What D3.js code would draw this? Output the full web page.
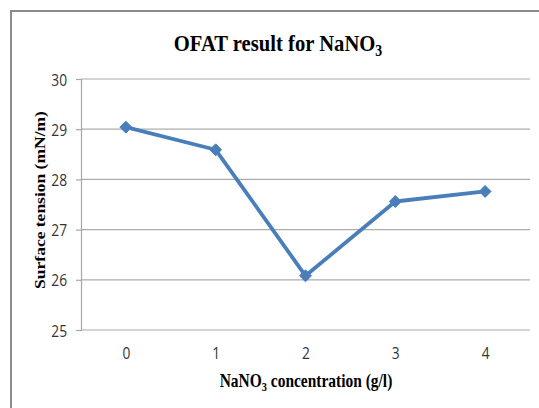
<!DOCTYPE html>
<html>
<head>
<meta charset="utf-8">
<script src="https://cdn.jsdelivr.net/npm/d3@7/dist/d3.min.js"></script>
<style>
  html, body { margin: 0; padding: 0; background: #fff; }
  svg { display: block; }
</style>
</head>
<body>
<svg id="chart" width="539" height="408"></svg>
<script>
// NaNO3 concentration (g/l) and measured surface tension (mN/m)
const concentrations = ["0", "1", "2", "3", "4"];
const surfaceTension = [29.04, 28.59, 26.08, 27.56, 27.76];
const yTicks = [25, 26, 27, 28, 29, 30];

const svg = d3.select("#chart");
const W = 539, H = 408;
const plot = { left: 81, right: 530, top: 79, bottom: 330 };
const squeeze = 0.86;   // narrow horizontal text proportions
const serif = "'Liberation Serif', 'DejaVu Serif', serif";
const sans = "'Open Sans', 'DejaVu Sans', sans-serif";

// outer chart frame (runs off the right and bottom edges)
svg.append("rect")
  .attr("x", 11).attr("y", 11)
  .attr("width", W).attr("height", H)
  .attr("fill", "#fff")
  .attr("stroke", "#8c8c8c")
  .attr("stroke-width", 2);

const x = d3.scalePoint()
  .domain(concentrations)
  .range([plot.left, plot.right])
  .padding(0.5);

const y = d3.scaleLinear()
  .domain([25, 30])
  .range([plot.bottom, plot.top]);

// horizontal gridlines
svg.append("g")
  .selectAll("line")
  .data(yTicks)
  .join("line")
  .attr("x1", plot.left).attr("x2", plot.right)
  .attr("y1", d => y(d)).attr("y2", d => y(d))
  .attr("stroke", "#acacac")
  .attr("stroke-width", 1.2);

// y axis
const yAxis = svg.append("g")
  .attr("transform", `translate(${plot.left},0)`)
  .call(d3.axisLeft(y).tickValues(yTicks).tickSize(5).tickFormat(d3.format("d")));
yAxis.select(".domain").attr("stroke", "#a6a6a6").attr("stroke-width", 1.2);
yAxis.selectAll(".tick line").attr("stroke", "#a6a6a6").attr("stroke-width", 1.2);
yAxis.selectAll(".tick text")
  .attr("x", 0)
  .attr("transform", `translate(-14,1) scale(${squeeze},1)`)
  .attr("font-family", sans)
  .attr("font-size", 16)
  .attr("fill", "#333");

// x axis labels (the 25 gridline serves as baseline)
const xAxis = svg.append("g")
  .attr("transform", `translate(0,${plot.bottom})`)
  .call(d3.axisBottom(x).tickSize(0).tickPadding(18));
xAxis.select(".domain").remove();
xAxis.selectAll(".tick text")
  .attr("transform", `scale(${squeeze},1)`)
  .attr("font-family", sans)
  .attr("font-size", 16)
  .attr("fill", "#333");

// series line
const line = d3.line()
  .x((d, i) => x(concentrations[i]))
  .y(d => y(d));

svg.append("path")
  .datum(surfaceTension)
  .attr("d", line)
  .attr("fill", "none")
  .attr("stroke", "#4a7ebb")
  .attr("stroke-width", 3.8)
  .attr("stroke-linejoin", "round");

// diamond markers
const diamond = d3.symbol().type(d3.symbolDiamond2).size(90);
svg.append("g")
  .selectAll("path")
  .data(surfaceTension)
  .join("path")
  .attr("transform", (d, i) => `translate(${x(concentrations[i])},${y(d)})`)
  .attr("d", diamond)
  .attr("fill", "#4a7ebb")
  .attr("stroke", "#4a7ebb")
  .attr("stroke-width", 1);

// title
const title = svg.append("text")
  .attr("transform", `translate(278,51) scale(${squeeze},1)`)
  .attr("text-anchor", "middle")
  .attr("font-family", serif)
  .attr("font-weight", "bold")
  .attr("font-size", 24)
  .attr("fill", "#000");
title.append("tspan").text("OFAT result for NaNO");
title.append("tspan").attr("dy", 5).attr("font-size", 16).text("3");

// x axis title
const xTitle = svg.append("text")
  .attr("transform", `translate(306,387) scale(${squeeze},1)`)
  .attr("text-anchor", "middle")
  .attr("font-family", serif)
  .attr("font-weight", "bold")
  .attr("font-size", 18)
  .attr("fill", "#000");
xTitle.append("tspan").text("NaNO");
xTitle.append("tspan").attr("dy", 4).attr("font-size", 12).text("3");
xTitle.append("tspan").attr("dy", -4).text(" concentration (g/l)");

// y axis title
svg.append("text")
  .attr("transform", `translate(45,200) scale(${squeeze},1) rotate(-90)`)
  .attr("text-anchor", "middle")
  .attr("font-family", serif)
  .attr("font-weight", "bold")
  .attr("font-size", 17.5)
  .attr("fill", "#000")
  .text("Surface tension (mN/m)");
</script>
</body>
</html>
